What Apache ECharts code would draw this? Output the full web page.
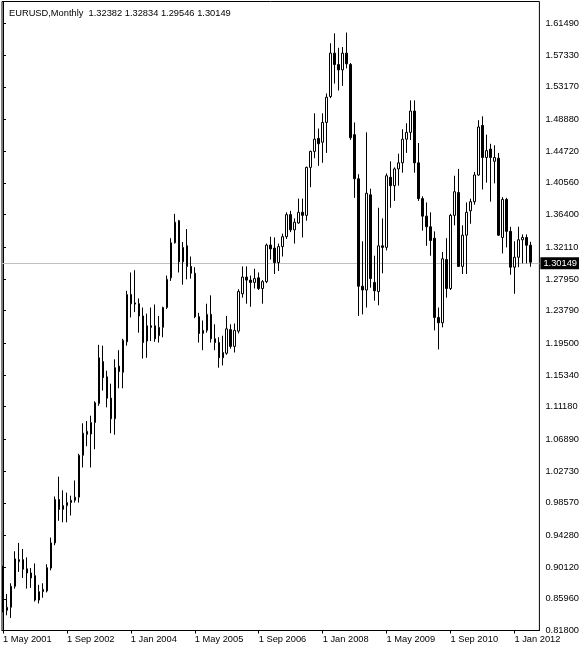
<!DOCTYPE html>
<html><head><meta charset="utf-8">
<script src="https://cdn.jsdelivr.net/npm/echarts@6/dist/echarts.min.js"></script>
<style>html,body{margin:0;padding:0;background:#fff}#c{width:582px;height:652px}</style>
</head><body><div id="c"></div>
<script>
const symbolName = 'EURUSD,Monthly';
const firstYear = 2001, firstMonthIdx = 4; // May 2001
const monthNames = ['Jan','Feb','Mar','Apr','May','Jun','Jul','Aug','Sep','Oct','Nov','Dec'];

const open = [
0.9000,0.8445,0.8485,0.8760,0.9085,0.9110,0.8990,0.8935,
0.8900,0.8580,0.8690,0.8700,0.9000,0.9330,0.9900,0.9770,0.9820,0.9860,0.9890,0.9930,
1.0480,1.0755,1.0760,1.0910,1.1160,1.1710,1.1510,1.1230,1.0960,1.1650,1.1570,1.1970,
1.2590,1.2480,1.2470,1.2310,1.1980,1.2180,1.2180,1.2050,1.2160,1.2420,1.2810,1.3270,
1.3560,1.3020,1.3230,1.2960,1.2870,1.2300,1.2080,1.2120,1.2330,1.2010,1.1960,1.1760,
1.1820,1.2130,1.1910,1.2110,1.2600,1.2820,1.2780,1.2750,1.2810,1.2670,1.2760,1.3240,
1.3200,1.3010,1.3220,1.3350,1.3640,1.3440,1.3530,1.3670,1.3630,1.4260,1.4470,1.4640,
1.4590,1.4850,1.5190,1.5760,1.5610,1.5540,1.5760,1.5610,1.4690,1.4110,1.2700,1.2650,
1.3900,1.2750,1.2630,1.3230,1.3210,1.4130,1.4020,1.4240,1.4320,1.4630,1.4720,1.5000,
1.4320,1.3850,1.3620,1.3480,1.3330,1.2290,1.2220,1.3050,1.2670,1.3630,1.3930,1.2960,
1.3370,1.3690,1.3810,1.4160,1.4810,1.4390,1.4500,1.4340,1.4380,1.3340,1.3840,1.3420,
1.2950,1.3080,1.3310,1.3340,1.32382];
const high = [
0.9030,0.8660,0.8800,0.9220,0.9330,0.9250,0.9140,0.9000,
0.9060,0.8780,0.8800,0.9050,0.9400,0.9940,1.0200,1.0020,0.9990,0.9950,1.0150,1.0500,
1.0900,1.0930,1.1000,1.1190,1.1930,1.1920,1.1590,1.1420,1.1740,1.1860,1.2010,1.2640,
1.2880,1.2910,1.2540,1.2420,1.2340,1.2420,1.2460,1.2310,1.2430,1.2840,1.3330,1.3650,
1.3570,1.3280,1.3450,1.3090,1.2950,1.2350,1.2250,1.2470,1.2580,1.2200,1.2030,1.2050,
1.2310,1.2200,1.2210,1.2660,1.2960,1.2960,1.2840,1.2930,1.2880,1.2780,1.3260,1.3350,
1.3340,1.3260,1.3390,1.3670,1.3690,1.3590,1.3850,1.3850,1.4270,1.4480,1.4970,1.4770,
1.4970,1.5230,1.5890,1.6020,1.5830,1.5840,1.6030,1.5630,1.4850,1.4170,1.3290,1.4720,
1.3980,1.3100,1.3730,1.3590,1.4180,1.4340,1.4260,1.4440,1.4760,1.4840,1.5140,1.5140,
1.4580,1.3880,1.3800,1.3670,1.3420,1.2420,1.3150,1.3330,1.3650,1.4150,1.4240,1.3500,
1.3800,1.3850,1.4200,1.4880,1.4930,1.4690,1.4570,1.4550,1.4450,1.3870,1.3860,1.3480,
1.3290,1.3480,1.3380,1.3380,1.32834];
const low = [
0.8420,0.8380,0.8345,0.8730,0.8950,0.8870,0.8730,0.8740,
0.8560,0.8535,0.8610,0.8680,0.8970,0.9300,0.9620,0.9600,0.9600,0.9690,0.9860,0.9860,
1.0320,1.0600,1.0320,1.0560,1.1130,1.1330,1.1110,1.0770,1.0750,1.1360,1.1360,1.1920,
1.2290,1.2360,1.2090,1.1750,1.1760,1.1980,1.1970,1.1960,1.2030,1.2400,1.2770,1.3260,
1.2880,1.2720,1.2790,1.2800,1.2280,1.1960,1.1860,1.2090,1.1960,1.1860,1.1630,1.1660,
1.1800,1.1880,1.1830,1.2080,1.2550,1.2470,1.2430,1.2670,1.2650,1.2470,1.2740,1.3050,
1.2860,1.2900,1.3090,1.3320,1.3410,1.3260,1.3520,1.3340,1.3560,1.4000,1.4380,1.4280,
1.4320,1.4450,1.5170,1.5360,1.5270,1.5330,1.5560,1.4620,1.3860,1.2310,1.2330,1.2420,
1.2680,1.2510,1.2450,1.2870,1.3170,1.3730,1.3820,1.4020,1.4190,1.4450,1.4620,1.4190,
1.3820,1.3430,1.3230,1.3100,1.2120,1.1870,1.2160,1.2550,1.2650,1.3500,1.2960,1.2860,
1.2860,1.3520,1.3770,1.4150,1.3970,1.4060,1.3810,1.4050,1.3360,1.3130,1.3210,1.2850,
1.2600,1.2950,1.3000,1.3000,1.29546];
const close = [
0.8455,0.8485,0.8760,0.9120,0.9110,0.8985,0.8935,0.8870,
0.8580,0.8690,0.8720,0.9005,0.9330,0.9900,0.9770,0.9820,0.9860,0.9890,0.9930,1.0480,
1.0770,1.0795,1.0910,1.1170,1.1760,1.1500,1.1230,1.0960,1.1630,1.1580,1.1990,1.2590,
1.2470,1.2465,1.2310,1.1960,1.2180,1.2160,1.2010,1.2160,1.2420,1.2790,1.3270,1.3540,
1.3020,1.3210,1.2960,1.2870,1.2300,1.2080,1.2120,1.2330,1.2010,1.1960,1.1760,1.1830,
1.2140,1.1910,1.2120,1.2630,1.2820,1.2780,1.2750,1.2800,1.2670,1.2760,1.3240,1.3190,
1.3010,1.3220,1.3350,1.3640,1.3440,1.3540,1.3670,1.3630,1.4260,1.4470,1.4630,1.4570,
1.4850,1.5180,1.5760,1.5610,1.5540,1.5760,1.5620,1.4650,1.4110,1.2700,1.2650,1.3920,
1.2800,1.2640,1.3230,1.3210,1.4150,1.4020,1.4240,1.4320,1.4630,1.4720,1.5000,1.4320,
1.3850,1.3620,1.3480,1.3300,1.2290,1.2220,1.3060,1.2670,1.3630,1.3940,1.2960,1.3370,
1.3670,1.3810,1.4160,1.4790,1.4390,1.4480,1.4390,1.4390,1.3370,1.3840,1.3420,1.2950,
1.3080,1.3310,1.3340,1.3238,1.30149];

const priceTicks = [1.6149,1.5733,1.5317,1.4888,1.4472,1.4056,1.3640,1.3211,1.2795,1.2379,
                    1.1950,1.1534,1.1118,1.0689,1.0273,0.9857,0.9428,0.9012,0.8596,0.8180];
const timeTickIndex = [0,16,32,48,64,80,96,112,128];
const lastPrice = 1.30149;

const FONT = 'Liberation Sans';
const FS = 9.3;

const monthLabels = open.map((_, i) => {
  const m = firstMonthIdx + i;
  return '1 ' + monthNames[m % 12] + ' ' + (firstYear + Math.floor(m / 12));
});
const n = open.length - 1;
const headerText = symbolName + '  ' + [open[n], high[n], low[n], close[n]].map(v => v.toFixed(5)).join(' ');

const candles = open.map((o, i) => [i, o, close[i], low[i], high[i]]);

const chart = echarts.init(document.getElementById('c'), null, {renderer: 'canvas'});
chart.setOption({
  animation: false,
  backgroundColor: '#fff',
  title: {
    text: headerText, left: 4, top: 4,
    textStyle: {fontFamily: FONT, fontSize: FS, fontWeight: 'normal', color: '#000'}
  },
  grid: {left: 1.5, right: 42.5, top: 1.5, bottom: 21.5, show: true, borderColor: '#000', borderWidth: 1, backgroundColor: '#fff'},
  xAxis: {
    type: 'value', min: -0.25, max: 134.25,
    axisLine: {show: true, lineStyle: {color: '#000', width: 1}},
    axisTick: {show: true, customValues: timeTickIndex, length: 3, lineStyle: {color: '#000'}},
    axisLabel: {customValues: timeTickIndex, formatter: v => monthLabels[Math.round(v)] || '', align: 'left',
      margin: 4, color: '#000', fontFamily: FONT, fontSize: FS},
    splitLine: {show: false}
  },
  yAxis: {
    type: 'value', position: 'right', min: 0.818, max: 1.64378,
    axisLine: {show: true, lineStyle: {color: '#000', width: 1}},
    axisTick: {show: true, customValues: priceTicks, length: 3, lineStyle: {color: '#000'}},
    axisLabel: {customValues: priceTicks, formatter: v => v.toFixed(5), margin: 6,
      color: '#000', fontFamily: FONT, fontSize: FS},
    splitLine: {show: false}
  },
  series: [{
    type: 'candlestick',
    data: candles,
    encode: {x: 0, y: [1, 2, 3, 4]},
    barWidth: 2,
    itemStyle: {color: '#fff', color0: '#000', borderColor: '#000', borderColor0: '#000', borderWidth: 1},
    markLine: {
      silent: true, symbol: ['none', 'none'], animation: false, z: 1,
      lineStyle: {color: '#c0c0c0', type: 'solid', width: 1},
      label: {show: true, position: 'end', distance: 1, formatter: lastPrice.toFixed(5),
        color: '#fff', backgroundColor: '#000', padding: [2, 2, 1, 3], fontFamily: FONT, fontSize: FS},
      data: [{yAxis: lastPrice}]
    }
  }]
});
</script></body></html>
